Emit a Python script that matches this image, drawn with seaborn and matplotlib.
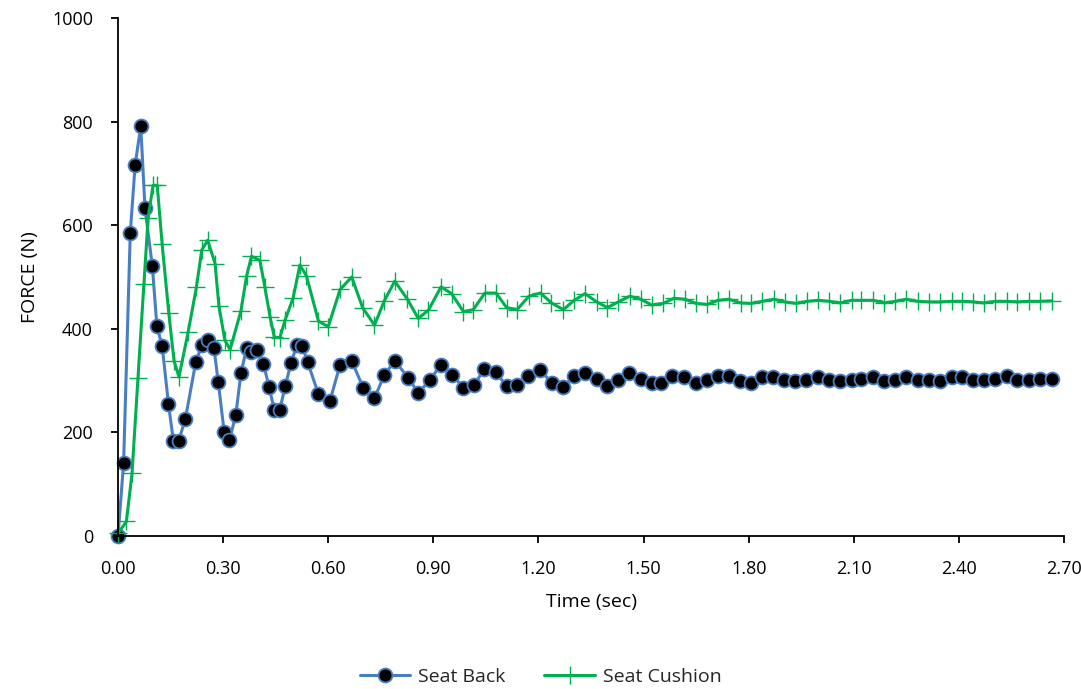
import matplotlib
matplotlib.use("Agg")
import matplotlib.pyplot as plt
import seaborn as sns
import numpy as np

# ---- data ----
t_back = [0, 0.016, 0.035, 0.049, 0.065, 0.077, 0.098, 0.111, 0.126, 0.144,
          0.158, 0.173, 0.192, 0.222, 0.239, 0.256, 0.274, 0.286, 0.303, 0.318,
          0.336, 0.351, 0.367, 0.381, 0.398, 0.415, 0.431, 0.446, 0.462, 0.477,
          0.494, 0.510, 0.526, 0.541, 0.572, 0.605, 0.634, 0.667, 0.700, 0.732,
          0.760, 0.790, 0.829, 0.857, 0.890, 0.922, 0.954, 0.986, 1.016, 1.045,
          1.079, 1.109, 1.139, 1.171, 1.204, 1.239, 1.271, 1.302, 1.333, 1.366,
          1.397, 1.428, 1.459, 1.492, 1.523,
          1.551, 1.582, 1.616, 1.649, 1.680, 1.713, 1.744, 1.775, 1.808, 1.839,
          1.870, 1.901, 1.932, 1.965, 1.997, 2.029, 2.060, 2.094,
          2.122, 2.155, 2.187, 2.219, 2.250, 2.282, 2.314, 2.346, 2.379, 2.409,
          2.441, 2.472, 2.504, 2.536, 2.567, 2.600, 2.631, 2.665]
f_back = [0, 141, 585, 717, 791, 633, 521, 405, 367, 255,
          184, 184, 225, 336, 368, 378, 362, 298, 201, 185,
          233, 315, 362, 356, 359, 333, 288, 244, 244, 289,
          334, 368, 367, 336, 274, 261, 331, 338, 286, 266,
          311, 338, 305, 276, 301, 331, 311, 286, 291, 322,
          316, 289, 291, 309, 320, 296, 288, 309, 314, 304,
          289, 302, 314, 304, 296,
          295, 309, 306, 296, 301, 309, 309, 299, 296, 307,
          306, 301, 300, 302, 307, 302, 300, 302,
          304, 306, 299, 302, 307, 302, 301, 299, 306, 306,
          302, 302, 304, 309, 302, 302, 304, 303]

t_cush = [0, 0.024, 0.040, 0.057, 0.074, 0.086, 0.100, 0.112, 0.126, 0.145,
          0.160, 0.174, 0.200, 0.224, 0.239, 0.256, 0.277, 0.288, 0.305, 0.320,
          0.351, 0.367, 0.381, 0.405, 0.419, 0.434, 0.446, 0.462, 0.477, 0.500,
          0.519, 0.538, 0.572, 0.600, 0.634, 0.667, 0.698, 0.732, 0.760, 0.790,
          0.826, 0.857, 0.886, 0.922, 0.952, 0.986, 1.014, 1.047, 1.079, 1.109,
          1.139, 1.173, 1.206, 1.237, 1.271, 1.302, 1.333, 1.366, 1.397, 1.428,
          1.461, 1.492, 1.523,
          1.556, 1.587, 1.618, 1.650, 1.682, 1.713, 1.744, 1.777, 1.808, 1.839,
          1.872, 1.903, 1.935, 1.967, 1.998, 2.030, 2.062, 2.094,
          2.122, 2.155, 2.187, 2.219, 2.250, 2.282, 2.314, 2.346, 2.379, 2.409,
          2.441, 2.472, 2.504, 2.536, 2.567, 2.600, 2.631, 2.665]
f_cush = [5, 28, 121, 305, 487, 614, 677, 677, 563, 430,
          338, 307, 393, 481, 552, 571, 526, 444, 378, 360,
          435, 502, 540, 532, 481, 423, 384, 383, 417, 460,
          523, 502, 415, 404, 476, 500, 441, 407, 454, 492,
          457, 420, 436, 481, 468, 433, 437, 469, 469, 441,
          437, 463, 469, 450, 437, 455, 468, 452, 441, 452,
          463, 457, 446,
          449, 459, 457, 449, 447, 455, 457, 450, 449, 453,
          457, 452, 449, 453, 455, 453, 450, 455,
          455, 455, 450, 453, 457, 453, 452, 452, 453, 453,
          452, 450, 453, 453, 452, 453, 453, 454]

series_names = ["Seat Back", "Seat Cushion"]
x_ticks = [0.00, 0.30, 0.60, 0.90, 1.20, 1.50, 1.80, 2.10, 2.40, 2.70]
y_ticks = [0, 200, 400, 600, 800, 1000]

# ---- styling ----
sns.set_theme(style="white")
plt.rcParams["font.family"] = ["Open Sans", "DejaVu Sans"]

fig = plt.figure(figsize=(10.81, 6.89), dpi=100)
ax = fig.add_axes([118 / 1081, 1 - 536 / 689, (1064 - 118) / 1081, (536 - 18) / 689])

blue = "#4A7EC2"
green = "#00B050"

sns.lineplot(x=t_back, y=f_back, ax=ax, color=blue, linewidth=2.2,
             marker="o", markersize=10, markerfacecolor="black",
             markeredgecolor=blue, markeredgewidth=1.3,
             estimator=None, sort=False, label=series_names[0], clip_on=False)
sns.lineplot(x=t_cush, y=f_cush, ax=ax, color=green, linewidth=2.2,
             marker="+", markersize=13, markeredgecolor=green, markeredgewidth=1.0,
             estimator=None, sort=False, label=series_names[1], clip_on=False)

ax.set_xlim(0, 2.70)
ax.set_ylim(0, 1000)
ax.set_xticks(x_ticks)
ax.set_xticklabels([f"{v:.2f}" for v in x_ticks])
ax.set_yticks(y_ticks)
ax.set_yticklabels([str(v) for v in y_ticks])

for s in ["top", "right"]:
    ax.spines[s].set_visible(False)
for s in ["left", "bottom"]:
    ax.spines[s].set_color("black")
    ax.spines[s].set_linewidth(1.3)

ax.tick_params(axis="both", which="major", direction="out", length=5, width=1.3,
               color="black", labelsize=13, labelcolor="black",
               bottom=True, left=True)
ax.tick_params(axis="x", pad=12)
ax.tick_params(axis="y", pad=13)

ax.set_xlabel("Time (sec)", fontsize=14, color="black", labelpad=11)
ax.set_ylabel("FORCE (N)", fontsize=14, color="black", labelpad=9)

ax.get_legend().remove()
handles, labels = ax.get_legend_handles_labels()
fig.legend(handles, labels, loc="center", ncol=2, frameon=False,
           bbox_to_anchor=(0.5, 1 - 677 / 689), fontsize=14, handlelength=2.6,
           columnspacing=2.0, handletextpad=0.4)

fig.savefig("out.png", dpi=100)
